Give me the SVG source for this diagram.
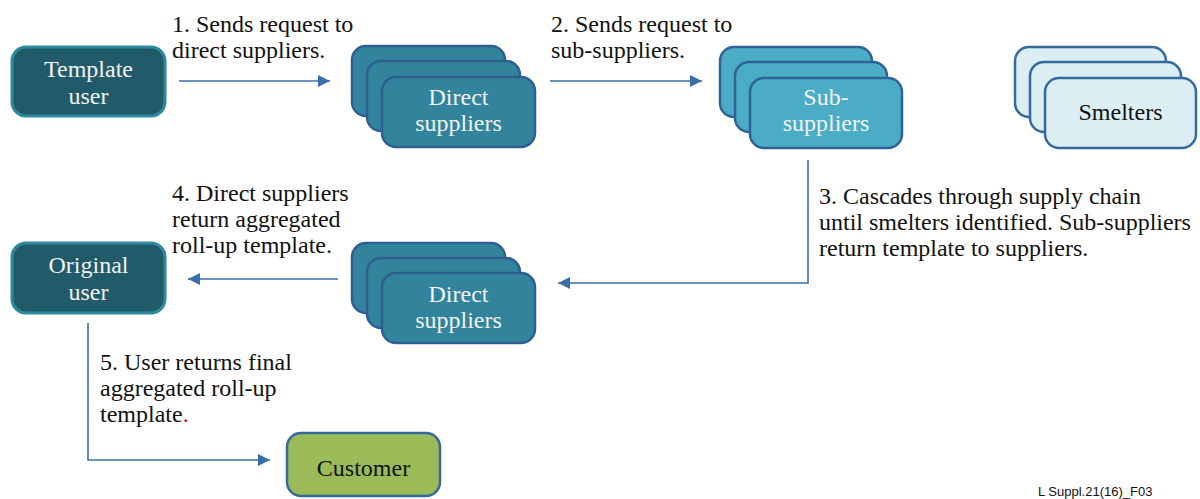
<svg xmlns="http://www.w3.org/2000/svg" width="1200" height="499" viewBox="0 0 1200 499">
<defs>
<marker id="ah" viewBox="0 0 12 12" refX="12" refY="6" markerWidth="12" markerHeight="12" markerUnits="userSpaceOnUse" orient="auto">
<path d="M0,0 L12,6 L0,12 z" fill="#3b6ea8"/>
</marker>
<style>
.lbl{font-family:'Liberation Serif','DejaVu Serif',serif;font-size:24px;fill:#111}
.nt{font-family:'Liberation Serif','DejaVu Serif',serif;font-size:24px;fill:#f2f2f2;text-anchor:middle}
.ntd{font-family:'Liberation Serif','DejaVu Serif',serif;font-size:24px;fill:#111;text-anchor:middle}
.user{fill:#215a68;stroke:#2f8aa0;stroke-width:3}
.ds{fill:#31849b;stroke:#2f5f90;stroke-width:2.5}
.ss{fill:#4bacc6;stroke:#2f6398;stroke-width:2.5}
.sm{fill:#dbeef4;stroke:#376a9c;stroke-width:2.5}
.cu{fill:#9bbb59;stroke:#376a9c;stroke-width:2.5}
.con{fill:none;stroke:#3b6ea8;stroke-width:1.6;marker-end:url(#ah)}
</style>
</defs>
<rect width="1200" height="499" fill="#fff"/>
<g id="template-user">
<rect class="user" x="12" y="47" width="153" height="69" rx="14"/>
<text class="nt" x="88.5" y="77">Template</text>
<text class="nt" x="88.5" y="104">user</text>
</g>
<g id="direct-suppliers-top">
<rect class="ds" x="352" y="46" width="153" height="70" rx="14"/>
<rect class="ds" x="367" y="61" width="153" height="70" rx="14"/>
<rect class="ds" x="382" y="77" width="153" height="70" rx="14"/>
<text class="nt" x="458.5" y="105">Direct</text>
<text class="nt" x="458.5" y="131">suppliers</text>
</g>
<g id="sub-suppliers">
<rect class="ss" x="720" y="47" width="152" height="70" rx="14"/>
<rect class="ss" x="735" y="62" width="152" height="70" rx="14"/>
<rect class="ss" x="750" y="78" width="152" height="70" rx="14"/>
<text class="nt" x="826" y="105">Sub-</text>
<text class="nt" x="826" y="131">suppliers</text>
</g>
<g id="smelters">
<rect class="sm" x="1015" y="47" width="151" height="70" rx="14"/>
<rect class="sm" x="1030" y="62" width="151" height="70" rx="14"/>
<rect class="sm" x="1045" y="78" width="151" height="70" rx="14"/>
<text class="ntd" x="1120.5" y="120">Smelters</text>
</g>
<g id="direct-suppliers-bottom">
<rect class="ds" x="352" y="243" width="153" height="70" rx="14"/>
<rect class="ds" x="367" y="258" width="153" height="70" rx="14"/>
<rect class="ds" x="382" y="273" width="153" height="70" rx="14"/>
<text class="nt" x="458.5" y="302">Direct</text>
<text class="nt" x="458.5" y="328">suppliers</text>
</g>
<g id="original-user">
<rect class="user" x="12" y="243" width="153" height="70" rx="14"/>
<text class="nt" x="88.5" y="273">Original</text>
<text class="nt" x="88.5" y="300">user</text>
</g>
<g id="customer">
<rect class="cu" x="287" y="433" width="153" height="63" rx="14"/>
<text class="ntd" x="363.5" y="476">Customer</text>
</g>
<g id="connectors">
<line class="con" x1="179" y1="81" x2="330" y2="81"/>
<line class="con" x1="550" y1="81" x2="702" y2="81"/>
<polyline class="con" points="808,160 808,283 558,283"/>
<line class="con" x1="338" y1="279" x2="188" y2="279"/>
<polyline class="con" points="88,323 88,460 270,460"/>
</g>
<g id="labels">
<text class="lbl" x="172" y="32">1. Sends request to</text>
<text class="lbl" x="172" y="58">direct suppliers.</text>
<text class="lbl" x="551" y="32">2. Sends request to</text>
<text class="lbl" x="551" y="58">sub-suppliers.</text>
<text class="lbl" x="819" y="204">3. Cascades through supply chain</text>
<text class="lbl" x="819" y="230">until smelters identified. Sub-suppliers</text>
<text class="lbl" x="819" y="256">return template to suppliers.</text>
<text class="lbl" x="172" y="201">4. Direct suppliers</text>
<text class="lbl" x="172" y="227">return aggregated</text>
<text class="lbl" x="172" y="253">roll-up template.</text>
<text class="lbl" x="100" y="370">5. User returns final</text>
<text class="lbl" x="100" y="396">aggregated roll-up</text>
<text class="lbl" x="100" y="422">template<tspan fill="#e00000">.</tspan></text>
<text x="1038" y="496" style="font-family:'Liberation Sans',Arial,sans-serif;font-size:13px;fill:#111">L Suppl.21(16)_F03</text>
</g>
</svg>
